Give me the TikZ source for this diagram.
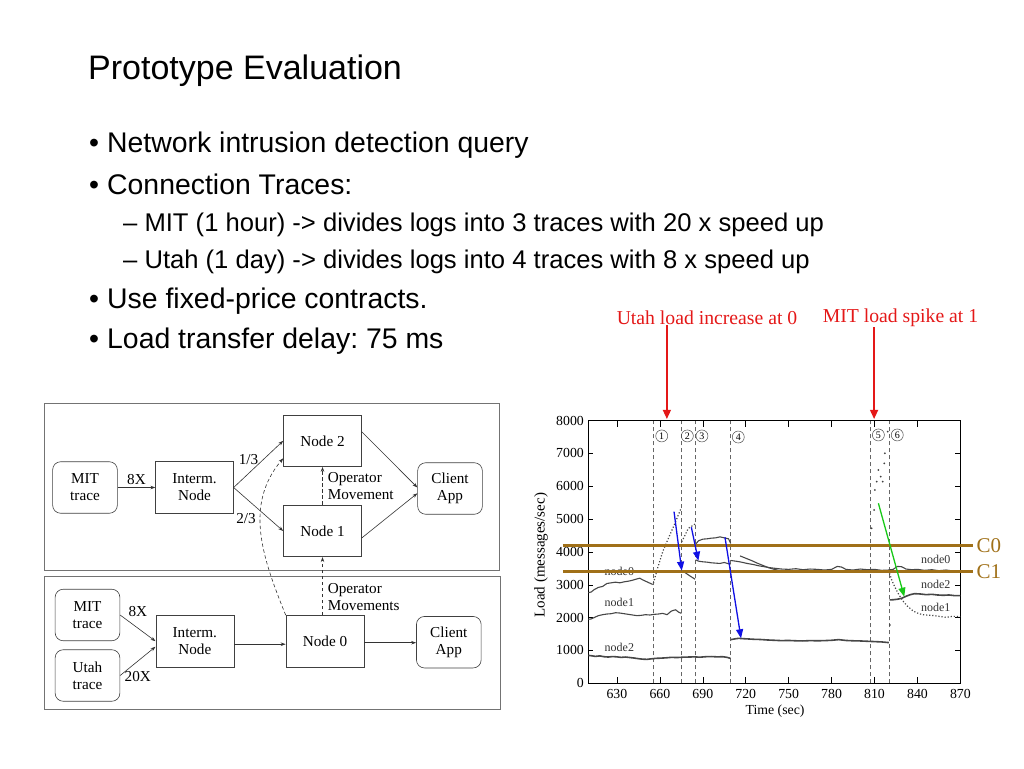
\documentclass[tikz,border=0pt]{standalone}
\usepackage{fontspec}
\setmainfont{Liberation Serif}
\newfontfamily\slidefont{Liberation Sans}
\usetikzlibrary{arrows.meta,positioning}
\frenchspacing

\definecolor{brownline}{RGB}{160,112,24}
\definecolor{callred}{RGB}{228,24,24}
\definecolor{movegreen}{RGB}{24,200,24}
\definecolor{moveblue}{RGB}{16,16,228}

\tikzset{
  slidetitle/.style={font=\slidefont\fontsize{34}{40}\selectfont,inner sep=0pt,anchor=base west},
  item/.style={font=\slidefont\fontsize{28.4}{34}\selectfont,inner sep=0pt,anchor=base west},
  subitem/.style={font=\slidefont\fontsize{25.6}{30}\selectfont,inner sep=0pt,anchor=base west},
  bul/.style={font=\slidefont\fontsize{28.4}{34}\selectfont,inner sep=0pt,anchor=base},
  panel/.style={draw=black!55,line width=0.8pt},
  box/.style={draw=black!75,line width=0.6pt,minimum width=78pt,minimum height=51.5pt,inner sep=0pt,align=center,font=\fontsize{15.2}{17}\selectfont},
  rbox/.style={box,rounded corners=8pt,minimum width=64.7pt},
  flow/.style={->,draw=black!80,line width=0.6pt},
  move/.style={flow,dash pattern=on 3.5pt off 2.5pt},
  lbl/.style={inner sep=0pt,font=\fontsize{15.2}{17}\selectfont},
  ticklbl/.style={inner sep=0pt,font=\fontsize{13.8}{16}\selectfont},
  trace/.style={black!72,line width=1.1pt,line join=round},
  spot/.style={black!72,line width=1.2pt,dash pattern=on 1.2pt off 1.9pt},
  vline/.style={black!60,line width=0.5pt,dash pattern=on 4pt off 3pt},
  circ/.style={circle,draw=black!70,line width=0.5pt,inner sep=0pt,minimum size=12pt,font=\fontsize{10}{12}\selectfont},
  nlbl/.style={inner sep=0pt,font=\fontsize{12}{14}\selectfont,black!80},
  cline/.style={brownline,line width=3.5pt},
  clbl/.style={inner sep=0pt,font=\fontsize{21}{24}\selectfont},
  redlbl/.style={inner sep=0pt,font=\fontsize{19.7}{23}\selectfont,text=callred},
  redarrow/.style={callred,line width=1.3pt,-{Triangle[length=9pt,width=8pt]}},
  bluearrow/.style={moveblue,line width=1.3pt,-{Triangle[length=9pt,width=7pt]}},
  greenarrow/.style={bluearrow,movegreen},
}

\begin{document}
\begin{tikzpicture}[x=1pt,y=-1pt,>={Stealth[length=5pt,width=3.5pt]}]
\useasboundingbox (0,0) rectangle (1024,768);

% slide text
\node[slidetitle] (ttl) at (88,79) {Prototype Evaluation};
\node[bul] at (94,152) {•};
\node[item] (l1) at (107,152) {Network intrusion detection query};
\node[bul] at (94,194) {•};
\node[item] (l2) at (107,194) {Connection Traces:};
\node[subitem] (l3) at (123,231) {– MIT (1 hour) -> divides logs into 3 traces with 20 x speed up};
\node[subitem] (l4) at (123,268) {– Utah (1 day) -> divides logs into 4 traces with 8 x speed up};
\node[bul] at (94,308) {•};
\node[item] (l5) at (107,308) {Use fixed-price contracts.};
\node[bul] at (94,348) {•};
\node[item] (l6) at (107,348) {Load transfer delay: 75 ms};

% query diagram
\draw[panel] (44,403) rectangle (499.5,570);
\draw[panel] (44,576.5) rectangle (500,709);

\node[rbox] (mit) at (85,487.5) {MIT\\trace};
\node[box,minimum width=77.7pt] (im) at (194.5,487.5) {Interm.\\Node};
\node[box] (n2) at (322.5,440.8) {Node 2};
\node[box] (n1) at (322.5,531) {Node 1};
\node[rbox] (app) at (450,488.5) {Client\\App};

\draw[flow] (mit) -- node[lbl,above=3pt]{8X} (im);
\draw[flow] (im.east) -- node[lbl,pos=.3,above=9pt]{1/3} (n2.west);
\draw[flow] (im.east) -- node[lbl,pos=.25,below=15pt]{2/3} (n1.west);
\draw[flow] (n2.13) -- ([yshift=1pt]app.west);
\draw[flow] (n1.-10) -- ([yshift=-4.8pt]app.west);
\draw[move] (n1) -- node[lbl,right=5pt,align=left]{Operator\\Movement} (n2);

\node[rbox] (mitb) at (87.5,615) {MIT\\trace};
\node[rbox] (utah) at (87.5,675.5) {Utah\\trace};
\node[box] (imb) at (194.8,641.2) {Interm.\\Node};
\node[box] (n0) at (325,641.2) {Node 0};
\node[rbox] (appb) at (448.8,642.2) {Client\\App};

\draw[flow] (mitb.east) -- node[lbl,above=11pt]{8X} (imb.west);
\draw[flow] (utah.east) -- node[lbl,below=10pt]{20X} ([yshift=-5.5pt]imb.west);
\draw[flow] ([yshift=-3pt]imb.east) -- ([yshift=-3pt]n0.west);
\draw[flow] ([yshift=-1.5pt]n0.east) -- ([yshift=-0.5pt]appb.west);
\draw[move] (n1.south |- n0.north) -- node[lbl,pos=.32,right=5pt,align=left]{Operator\\Movements} (n1.south);
\draw[move] (n0.north west) to[out=112,in=230] (n2.204);

% load chart
\node[redlbl] (utahlbl) at (707,318) {Utah load increase at 0};
\node[redlbl] (mitlbl) at (900.5,318) {MIT load spike at 1};

\begin{scope}[shift={(-284.6,683.3)},x=1.431pt,y=0.03283pt]
  \draw[line width=0.6pt] (610,0) rectangle (870,8000);
  \foreach \t in {630,660,...,840} {
    \draw[line width=0.5pt] (\t,0) -- ++(0,200);
    \draw[line width=0.5pt] (\t,8000) -- ++(0,-200);
  }
  \foreach \l in {1000,2000,...,7000} {
    \draw[line width=0.5pt] (610,\l) -- ++(3.5,0);
    \draw[line width=0.5pt] (870,\l) -- ++(-3.5,0);
  }
  \foreach \l in {0,1000,...,8000}
    \node[ticklbl,anchor=east] at (607,\l) {\l};
  \foreach \t in {630,660,...,870}
    \node[ticklbl] at (\t,-330) {\t};
  \node[ticklbl] (tlbl) at (740.5,-840) {Time (sec)};
  \node[ticklbl,rotate=90,font=\fontsize{15}{17}\selectfont] (llbl) at (577,3900) {Load (messages/sec)};

  \foreach \t in {655.4,674.8,684.8,709.5,807.3,820.3}
    \draw[vline] (\t,0) -- (\t,8000);
  \foreach \n/\t/\l in {1/661.3/7533,2/679.2/7533,3/689.4/7533,4/714.8/7500,5/812.7/7563,6/825.9/7563}
    \node[circ] (c\n) at (\t,\l) {\n};

  % node2
  \draw[trace,line width=1.6pt] plot coordinates {(610,850) (612,840) (615,820) (618,835) (621,810) (624,800) (627,815) (630,805) (633,790) (636,800) (639,785) (642,770) (645,750) (648,735) (651,730) (654,745) (657,760) (660,765) (664,775) (668,790) (672,785) (676,795) (680,800) (684,805) (688,795) (692,810) (696,815) (700,805) (704,810) (707,790) (709.3,760)};
  \draw[trace,line width=1.6pt] plot coordinates {(709.6,1330) (712,1350) (715,1370) (718,1360) (722,1350) (726,1340) (730,1335) (735,1320) (740,1310) (745,1300) (750,1305) (755,1295) (760,1290) (765,1300) (770,1295) (775,1300) (780,1310) (785,1330) (790,1305) (795,1295) (800,1290) (805,1280) (810,1270) (815,1260) (820,1240)};
  \draw[trace,line width=1.6pt] plot coordinates {(820.5,2540) (823,2545) (826,2560) (829,2590) (832,2650) (835,2700) (838,2730) (842,2720) (846,2700) (850,2710) (854,2690) (858,2680) (862,2690) (866,2670) (870,2670)};
  % node1
  \draw[trace] plot coordinates {(610,1950) (612,1960) (614,2000) (617,2060) (620,2090) (623,2110) (626,2120) (629,2150) (632,2140) (635,2120) (638,2100) (641,2080) (644,2060) (647,2070) (650,2090) (653,2080) (656,2100) (659,2110) (662,2130) (665,2090) (668,2200) (671,2240) (673,2170) (675,2130)};
  % node0
  \draw[trace] plot coordinates {(610,2760) (612,2780) (614,2850) (617,2920) (620,2950) (623,3040) (626,3060) (629,3080) (632,3060) (635,3090) (638,3110) (641,3140) (644,3180) (646,3200) (648,3150) (651,3090) (653,3050) (655,3010)};
  \draw[spot] plot coordinates {(655.5,3050) (658,3450) (662,4010) (665,4320) (670,4820) (674.8,5330)};
  \draw[trace] plot coordinates {(675.2,3430) (678,3360) (681,3270) (684.6,3170)};
  \draw[spot] plot coordinates {(675.3,4310) (679.9,4720) (684.6,4850)};
  \draw[trace] plot coordinates {(685,4240) (687,4340) (690,4390) (693,4400) (696,4420) (699,4430) (702,4460) (704,4440) (706,4420) (708,4400) (709.5,4260)};
  \draw[trace] plot coordinates {(685,3760) (687,3720) (690,3700) (693,3690) (696,3670) (699,3660) (702,3650) (705,3680) (708,3640) (709.5,3630)};
  \draw[trace] plot coordinates {(709.6,3740) (713,3720) (717,3690) (721,3650) (725,3620) (729,3580) (733,3550) (737,3520) (741,3500) (745,3480) (750,3470) (755,3490) (760,3460) (765,3480) (770,3470) (775,3450) (780,3470) (784,3560) (787,3540) (790,3470) (795,3450) (800,3480) (805,3460) (810,3470) (815,3440) (820,3450) (823,3470) (826,3560) (829,3550) (832,3480) (836,3460) (840,3470) (845,3440) (850,3460) (855,3430) (860,3450) (865,3420) (870,3420)};
  \draw[trace] plot coordinates {(716,3880) (720,3810) (724,3740) (728,3660) (732,3590) (736,3520) (740,3470) (744,3430) (750,3420) (755,3440) (760,3410) (765,3430) (770,3420) (775,3400) (780,3430) (785,3420) (790,3410) (795,3430) (800,3400) (805,3420) (810,3410) (815,3400) (819.5,3400)};
  \draw[spot] plot coordinates {(820.5,3350) (822,3150) (824,2950) (827,2700) (830,2500) (833,2350) (837,2200) (841,2120) (845,2080) (850,2070) (855,2040) (860,2010) (865,2040) (870,2030)};
  % MIT spike
  \foreach \t/\l in {808/4721,809.7/5279,810.3/5888,811.5/6141,812.7/6497,814.3/6293,815.7/6141,816.8/6701,817.3/7006,819.2/7664,820.8/1776}
    \fill[black!75] (\t,\l) circle[radius=1pt];

  \node[nlbl] (lb0) at (631.7,3400) {node0};
  \node[nlbl] (lb1) at (631.7,2455) {node1};
  \node[nlbl] (lb2) at (631.7,1097) {node2};
  \node[nlbl] (rb0) at (852.8,3777) {node0};
  \node[nlbl] (rb2) at (852.8,3016) {node2};
  \node[nlbl] (rb1) at (852.8,2315) {node1};

  \draw[cline] (592.3,4195) -- (878.8,4195) node[clbl,right=2pt] (c0) {C0};
  \draw[cline] (592.3,3402) -- (878.8,3402) node[clbl,right=2pt] (c1) {C1};

  \draw[bluearrow] (669.9,5227) -- (675.3,3430);
  \draw[bluearrow] (682,4752) -- (686.9,3734);
  \draw[bluearrow] (705.5,4447) -- (716.7,1371);
  \draw[greenarrow] (812.7,5483) -- (830.8,2638);

  \coordinate (uhit) at (664.9,8050);
  \coordinate (mhit) at (809.7,8050);
\end{scope}

\draw[redarrow] (utahlbl.south -| uhit) -- (uhit);
\draw[redarrow] (mitlbl.south -| mhit) -- (mhit);
\end{tikzpicture}
\end{document}
